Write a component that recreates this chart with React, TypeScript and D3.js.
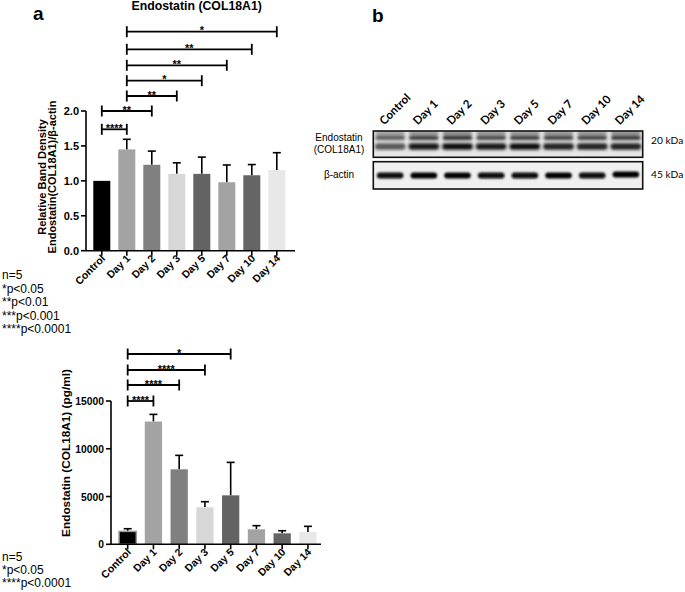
import React from "react";
import * as d3 from "d3";

const categories = ["Control", "Day 1", "Day 2", "Day 3", "Day 5", "Day 7", "Day 10", "Day 14"];
const densityMean = [1.0, 1.45, 1.23, 1.1, 1.1, 0.98, 1.08, 1.155];
const densityErr = [0, 0.145, 0.196, 0.158, 0.24, 0.247, 0.153, 0.248];
const densityTicks = [0, 0.5, 1.0, 1.5, 2.0];
const densitySig = [
  { a: 1, b: 7, label: "*" },
  { a: 1, b: 6, label: "**" },
  { a: 1, b: 5, label: "**" },
  { a: 1, b: 4, label: "*" },
  { a: 1, b: 3, label: "**" },
  { a: 0, b: 2, label: "**" },
  { a: 0, b: 1, label: "****" },
];
const elisaMean = [1350, 12850, 7850, 3870, 5125, 1570, 1150, 1290];
const elisaErr = [280, 750, 1460, 590, 3450, 380, 270, 590];
const elisaTicks = [0, 5000, 10000, 15000];
const elisaSig = [
  { a: 0, b: 4, label: "*" },
  { a: 0, b: 3, label: "****" },
  { a: 0, b: 2, label: "****" },
  { a: 0, b: 1, label: "****" },
];
const legendA = ["n=5", "*p<0.05", "**p<0.01", "***p<0.001", "****p<0.0001"];
const legendB = ["n=5", "*p<0.05", "****p<0.0001"];
const faintBand = [0.25, 0.3, 0.35, 0.3, 0.3, 0.3, 0.3, 0.35];
const upperBand = [0.6, 0.75, 0.8, 0.7, 0.75, 0.72, 0.72, 0.78];
const lowerBand = [0.6, 0.88, 0.92, 0.88, 0.92, 0.85, 0.85, 0.85];
const actinBand = [0.95, 1.0, 0.98, 0.95, 0.95, 1.0, 0.95, 0.98];

// styling / layout
const barFills = ["#000000", "#a3a3a3", "#808080", "#d7d7d7", "#636363", "#a3a3a3", "#656565", "#e8e8e8"];
const FONT = "'Liberation Sans', Arial, sans-serif";
const BLOTFONT = "Lato, 'Liberation Sans', sans-serif";
const sigYA = [31.7, 49.3, 65.3, 80.7, 96, 111, 129.3];
const sigYB = [354, 370, 385, 401];

type ChartProps = {
  x0: number; x1: number; axisX: number; axisEnd: number;
  yTop: number; yBottom: number; yMax: number;
  means: number[]; errs: number[]; ticks: number[]; fmt: (v: number) => string;
  sig: { a: number; b: number; label: string }[]; sigY: number[];
  pad: number; tickFont: number; outlineFirst?: boolean;
};

function BarChart(p: ChartProps) {
  const x = d3.scaleBand<string>().domain(categories).range([p.x0, p.x1]).paddingInner(p.pad).paddingOuter(p.pad / 2);
  const y = d3.scaleLinear().domain([0, p.yMax]).range([p.yBottom, p.yTop]);
  const bw = x.bandwidth();
  const cx = (c: string) => (x(c) as number) + bw / 2;
  const sw = 1.6;
  return (
    <g fontFamily={FONT}>
      {categories.map((c, i) => (
        <g key={c}>
          {p.errs[i] > 0 && (
            <g stroke="#000" strokeWidth={sw}>
              <line x1={cx(c)} x2={cx(c)} y1={y(p.means[i])} y2={y(p.means[i] + p.errs[i])} />
              <line x1={cx(c) - 4} x2={cx(c) + 4} y1={y(p.means[i] + p.errs[i])} y2={y(p.means[i] + p.errs[i])} />
            </g>
          )}
          <rect
            x={x(c)}
            y={y(p.means[i])}
            width={bw}
            height={p.yBottom - y(p.means[i])}
            fill={barFills[i]}
            stroke={p.outlineFirst && i === 0 ? "#9a9a9a" : "none"}
            strokeWidth={1.5}
          />
        </g>
      ))}
      <line x1={p.axisX} x2={p.axisX} y1={p.yTop} y2={p.yBottom} stroke="#000" strokeWidth={sw} />
      <line x1={p.axisX} x2={p.axisEnd} y1={p.yBottom} y2={p.yBottom} stroke="#000" strokeWidth={sw} />
      {p.ticks.map((t) => (
        <g key={t}>
          <line x1={p.axisX - 5} x2={p.axisX} y1={y(t)} y2={y(t)} stroke="#000" strokeWidth={sw} />
          <text x={p.axisX - 7} y={y(t) + 4} textAnchor="end" fontSize={p.tickFont} fontWeight="bold">
            {p.fmt(t)}
          </text>
        </g>
      ))}
      {categories.map((c) => (
        <g key={"xt" + c}>
          <line x1={cx(c)} x2={cx(c)} y1={p.yBottom} y2={p.yBottom + 5} stroke="#000" strokeWidth={sw} />
          <text
            transform={`translate(${cx(c) + 4},${p.yBottom + 8.5}) rotate(-45)`}
            textAnchor="end"
            fontSize={10.5}
            fontWeight="bold"
          >
            {c}
          </text>
        </g>
      ))}
      {p.sig.map((s, k) => {
        const xa = cx(categories[s.a]);
        const xb = cx(categories[s.b]);
        const yy = p.sigY[k];
        return (
          <g key={"s" + k} stroke="#000" strokeWidth={1.8}>
            <line x1={xa} x2={xb} y1={yy} y2={yy} />
            <line x1={xa} x2={xa} y1={yy - 5.5} y2={yy + 5.5} />
            <line x1={xb} x2={xb} y1={yy - 5.5} y2={yy + 5.5} />
            <text x={(xa + xb) / 2} y={yy + 2.5} textAnchor="middle" fontSize={11} fontWeight="bold" stroke="none" fill="#000">
              {s.label}
            </text>
          </g>
        );
      })}
    </g>
  );
}

function Blot() {
  const bx0 = 373.3;
  const bx1 = 642.7;
  const lane = d3.scaleBand<string>().domain(categories).range([bx0, bx1]);
  const lw = lane.bandwidth();
  const dark = (v: number) => d3.interpolateGreys(0.3 + v * 0.7);
  return (
    <g>
      <defs>
        <filter id="blur1" x="-20%" y="-150%" width="140%" height="400%">
          <feGaussianBlur stdDeviation="1.4" />
        </filter>
        <filter id="blur2" x="-20%" y="-150%" width="140%" height="400%">
          <feGaussianBlur stdDeviation="0.9" />
        </filter>
        <clipPath id="clipTop">
          <rect x={bx0} y={131} width={bx1 - bx0} height={26.3} />
        </clipPath>
      </defs>
      <rect x={bx0} y={131} width={bx1 - bx0} height={26.3} fill="#e6e6e6" />
      <rect x={bx0} y={161.7} width={bx1 - bx0} height={27.3} fill="#f0f0f0" />
      <g filter="url(#blur1)" clipPath="url(#clipTop)">
        {categories.map((c, i) => (
          <g key={"b" + c}>
            <rect x={(lane(c) as number) + 2} y={131} width={lw - 4} height={4} rx={2} fill={dark(faintBand[i])} />
            <rect x={(lane(c) as number) + 2} y={135.5} width={lw - 4} height={4.5} rx={2} fill={dark(upperBand[i])} />
            <rect x={(lane(c) as number) + 1.5} y={143.2} width={lw - 3} height={6.5} rx={3} fill={dark(lowerBand[i])} />
          </g>
        ))}
      </g>
      <g filter="url(#blur2)">
        {categories.map((c, i) => (
          <rect
            key={"a" + c}
            x={(lane(c) as number) + 3.5}
            y={172.6 - (i === 7 ? 1.2 : 0)}
            width={lw - 7}
            height={6}
            rx={3}
            fill={dark(actinBand[i])}
          />
        ))}
      </g>
      <rect x={bx0} y={131} width={bx1 - bx0} height={26.3} fill="none" stroke="#111" strokeWidth={1.6} />
      <rect x={bx0} y={161.7} width={bx1 - bx0} height={27.3} fill="none" stroke="#111" strokeWidth={1.6} />
      {categories.map((c) => (
        <text
          key={"l" + c}
          transform={`translate(${(lane(c) as number) + lw / 2 - 6},${125.5}) rotate(-45)`}
          fontSize={11.5}
          fontWeight="bold"
          fontFamily={BLOTFONT}
        >
          {c}
        </text>
      ))}
      <text x={339} y={141} textAnchor="middle" fontSize={10} fontFamily={FONT}>Endostatin</text>
      <text x={339} y={152.5} textAnchor="middle" fontSize={10} fontFamily={FONT}>(COL18A1)</text>
      <text x={339} y={178} textAnchor="middle" fontSize={10} fontFamily={FONT}>β-actin</text>
      <text x={651} y={144} fontSize={10.2} fontFamily={BLOTFONT}>20 kDa</text>
      <text x={651} y={177.5} fontSize={10.2} fontFamily={BLOTFONT}>45 kDa</text>
    </g>
  );
}

export default function App() {
  return (
    <svg
      width={685}
      height={592}
      style={{ position: "absolute", left: 0, top: 0, background: "#fff" }}
      fontFamily={FONT}
    >
      <rect width={685} height={592} fill="#fff" />
      <text x={33} y={20} fontSize={19} fontWeight="bold">a</text>
      <text x={372} y={22} fontSize={19} fontWeight="bold">b</text>
      <text x={196.7} y={10} textAnchor="middle" fontSize={12.3} fontWeight="bold">Endostatin (COL18A1)</text>

      <BarChart
        x0={89.3} x1={289.3} axisX={86} axisEnd={295}
        yTop={111} yBottom={250.7} yMax={2}
        means={densityMean} errs={densityErr} ticks={densityTicks}
        fmt={d3.format(".1f")} sig={densitySig} sigY={sigYA} pad={0.32} tickFont={11}
      />
      <text transform="translate(46,177) rotate(-90)" textAnchor="middle" fontSize={11} fontWeight="bold">
        Relative Band Density
      </text>
      <text transform="translate(56,177) rotate(-90)" textAnchor="middle" fontSize={11} fontWeight="bold">
        Endostatin(COL18A1)/β-actin
      </text>
      {legendA.map((t, i) => (
        <text key={t} x={2} y={279 + i * 13.5} fontSize={12}>{t}</text>
      ))}

      <BarChart
        x0={114.8} x1={320.8} axisX={111} axisEnd={321}
        yTop={401} yBottom={544.3} yMax={15000}
        means={elisaMean} errs={elisaErr} ticks={elisaTicks}
        fmt={d3.format("d")} sig={elisaSig} sigY={sigYB} pad={0.33} tickFont={10.3} outlineFirst
      />
      <text transform="translate(69.5,453) rotate(-90)" textAnchor="middle" fontSize={11.8} fontWeight="bold">
        Endostatin (COL18A1) (pg/ml)
      </text>
      {legendB.map((t, i) => (
        <text key={t} x={2} y={561 + i * 13.2} fontSize={12}>{t}</text>
      ))}

      <Blot />
    </svg>
  );
}
